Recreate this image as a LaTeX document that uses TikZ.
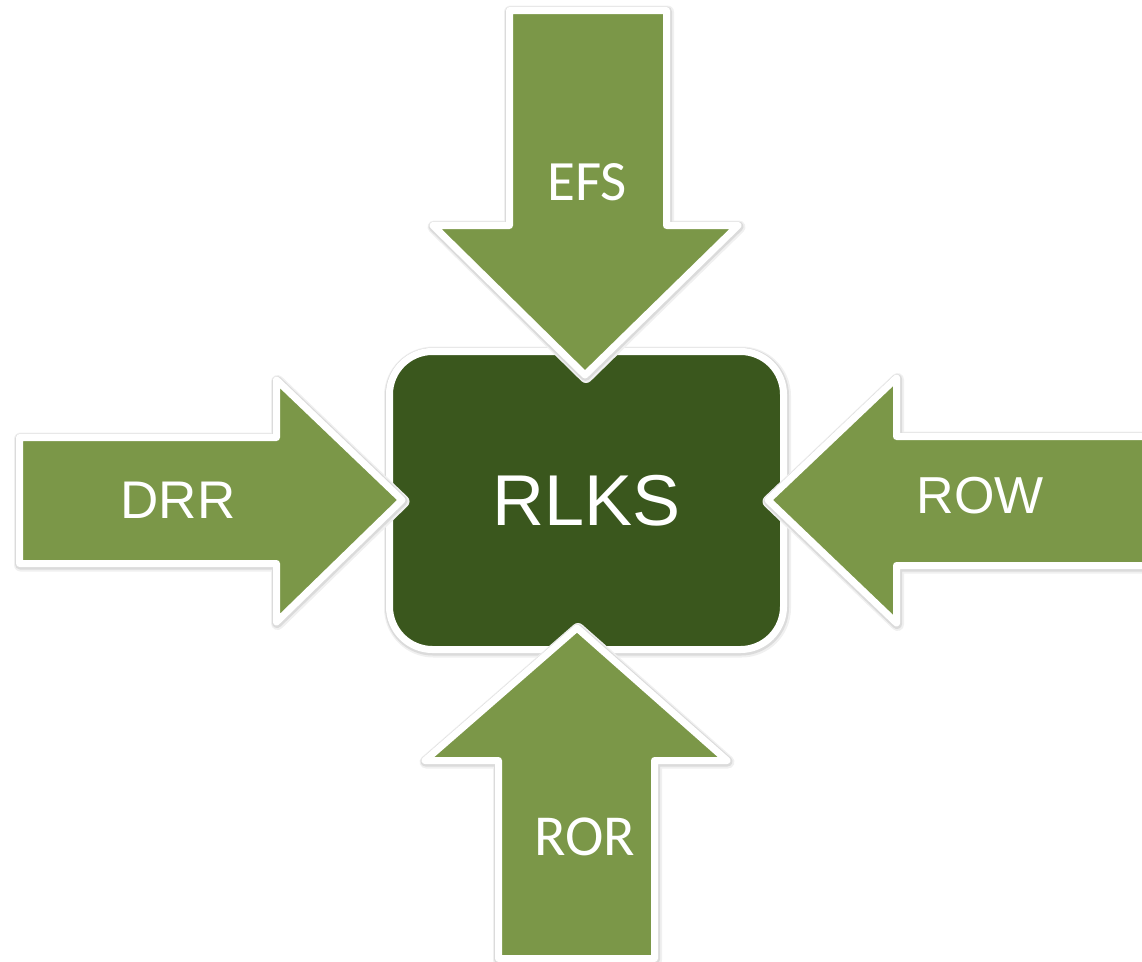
\documentclass[tikz,border=0pt]{standalone}
\usepackage{fontspec}
\setmainfont{Liberation Sans}
\newfontfamily\calfont{Carlito}
\definecolor{leaf}{RGB}{123,151,72}
\definecolor{moss}{RGB}{58,87,29}

\begin{document}
\begin{tikzpicture}[x=1pt,y=-1pt,
	halo/.style={preaction={draw=black!6,line width=13pt,line join=round,transform canvas={shift={(1pt,-1.5pt)}}},
		preaction={draw=black!14,line width=10pt,line join=round,transform canvas={shift={(0.5pt,-1pt)}}}},
	blockarrow/.style={halo,fill=leaf,draw=white,line width=7pt,line join=round},
	core/.style={rectangle,rounded corners=43pt,halo,fill=moss,draw=white,line width=7pt,
		minimum width=394pt,minimum height=298pt,text=white,font=\fontsize{72}{76}\selectfont},
	lbl/.style={text=white,inner sep=0pt}]
	\useasboundingbox (0,0) rectangle (1142,961);

	% centre box
	\node[core] (rlks) at (586.5,500.5) {RLKS};

	% the four arrows
	\filldraw[blockarrow] (509.5,10.5) -- (666.5,10.5) -- (666.5,225.5) -- (738,225.5) -- (585,375) -- (433,225.5) -- (509.5,225.5) -- cycle;
	\filldraw[blockarrow] (19.5,437.5) -- (276.5,437.5) -- (276.5,380) -- (402,500) -- (276.5,622) -- (276.5,563.5) -- (19.5,563.5) -- cycle;
	\filldraw[blockarrow] (1165,436.5) -- (896.5,436.5) -- (896.5,378) -- (768,500) -- (896.5,623) -- (896.5,565.5) -- (1165,565.5) -- cycle;
	\filldraw[blockarrow] (498.5,958.5) -- (498.5,760.5) -- (425,760.5) -- (577,628) -- (727,760.5) -- (654.5,760.5) -- (654.5,958.5) -- cycle;

	\node[lbl,font=\calfont\fontsize{57}{60}\selectfont] (efs) at (587,182) {EFS};
	\node[lbl,font=\fontsize{53}{56}\selectfont] (drr) at (178,500) {DRR};
	\node[lbl,font=\fontsize{52}{56}\selectfont] (row) at (980,496) {ROW};
	\node[lbl,font=\calfont\fontsize{58}{60}\selectfont] (ror) at (584.5,836.5) {ROR};
\end{tikzpicture}
\end{document}
